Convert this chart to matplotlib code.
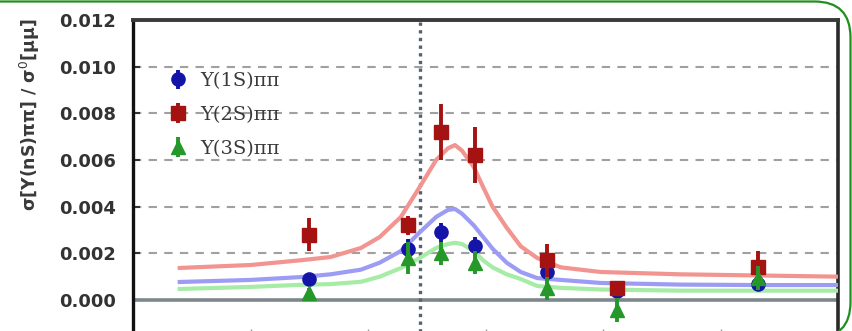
import matplotlib
matplotlib.use("Agg")
import matplotlib.pyplot as plt
from matplotlib.patches import PathPatch
from matplotlib.path import Path
from matplotlib.transforms import IdentityTransform

# ---- data ----
energy = [10.825, 10.867, 10.881, 10.8955, 10.926, 10.956, 11.016]
y1s = [0.0009, 0.0022, 0.0029, 0.0023, 0.0012, 0.0004, 0.0007]
y1s_err = [0.0002, 0.0004, 0.0004, 0.0004, 0.0004, 0.0003, 0.0003]
y2s = [0.0028, 0.0032, 0.0072, 0.0062, 0.0017, 0.0005, 0.0014]
y2s_err = [0.0007, 0.0004, 0.0012, 0.0012, 0.0007, 0.0003, 0.0007]
y3s = [0.0003, 0.0018, 0.0020, 0.0016, 0.0005, -0.00043, 0.00094]
y3s_err = [0.0002, 0.0007, 0.0005, 0.0005, 0.0005, 0.0005, 0.0005]

curve_x = [10.769, 10.800, 10.821, 10.834, 10.847, 10.855, 10.864, 10.872,
           10.879, 10.884, 10.887, 10.890, 10.895, 10.899, 10.903, 10.909,
           10.915, 10.922, 10.932, 10.949, 10.983, 11.017, 11.050]
curve_2s = [0.00137, 0.00150, 0.00170, 0.00184, 0.00223, 0.00270, 0.00356, 0.00484,
            0.00600, 0.00650, 0.00664, 0.00640, 0.00570, 0.00484, 0.00400, 0.00310,
            0.00230, 0.00180, 0.00140, 0.00120, 0.00110, 0.00105, 0.00100]
curve_1s = [0.00077, 0.00086, 0.00098, 0.00110, 0.00130, 0.00160, 0.00210, 0.00290,
            0.00356, 0.00386, 0.00390, 0.00370, 0.00320, 0.00270, 0.00220, 0.00160,
            0.00120, 0.00094, 0.00086, 0.00073, 0.00066, 0.00064, 0.00064]
curve_3s = [0.00047, 0.00056, 0.00065, 0.00068, 0.00078, 0.00100, 0.00137, 0.00180,
            0.00223, 0.00240, 0.00245, 0.00240, 0.00210, 0.00170, 0.00140, 0.00110,
            0.00090, 0.00060, 0.00052, 0.00045, 0.00040, 0.00040, 0.00040]

threshold = 10.872
yticks = [0.000, 0.002, 0.004, 0.006, 0.008, 0.010, 0.012]
xticks = [10.80, 10.85, 10.90, 10.95, 11.00]
labels = ["Υ(1S)ππ", "Υ(2S)ππ", "Υ(3S)ππ"]

# ---- figure ----
W, H = 852, 331
fig = plt.figure(figsize=(W / 100, H / 100), dpi=100)
left_px, right_px, top_px, bot_px = 133, 838, 20, 333
ax = fig.add_axes([left_px / W, 1 - bot_px / H, (right_px - left_px) / W, (bot_px - top_px) / H])

ymin = -(bot_px - 300) / ((300 - 20) / 0.012)
ax.set_ylim(ymin, 0.012)
ax.set_xlim(10.75, 11.05)

# grid
for yv in yticks[1:-1]:
    ax.axhline(yv, color="#a0a0a0", lw=1.5, ls=(0, (4, 3.5)), zorder=1)
ax.axhline(0.0, color="#7d878c", lw=2.6, zorder=2)
ax.axvline(threshold, color="#56626e", lw=2.4, ls=(0, (1, 1.3)), zorder=2)

# fit curves
ckw = dict(lw=3.0, zorder=3, solid_joinstyle="round", solid_capstyle="butt")
ax.plot(curve_x, curve_2s, color="#f29490", **ckw)
ax.plot(curve_x, curve_1s, color="#9c9cf4", **ckw)
ax.plot(curve_x, curve_3s, color="#a6eca6", **ckw)

# data
h1 = ax.errorbar(energy, y1s, yerr=y1s_err, fmt="o", color="#1414a8", ms=9.5,
                 elinewidth=2.8, capsize=0, zorder=5)
h2 = ax.errorbar(energy, y2s, yerr=y2s_err, fmt="s", color="#a51212", ms=9.5,
                 elinewidth=2.8, capsize=0, zorder=6)
h3 = ax.errorbar(energy, y3s, yerr=y3s_err, fmt="^", color="#26982a", ms=9.5,
                 elinewidth=2.8, capsize=0, zorder=7)

leg = ax.legend([h1, h2, h3], labels, loc="upper left", bbox_to_anchor=(0.039, 0.858),
                frameon=False, prop={"family": "DejaVu Serif", "size": 14},
                handlelength=1.0, handletextpad=0.66, labelspacing=0.81,
                borderaxespad=0)
for t in leg.get_texts():
    t.set_color("#3a3a3a")

# axes style
ax.set_yticks(yticks)
ax.set_yticklabels([f"{v:.3f}" for v in yticks], fontsize=13, fontweight="bold",
                   color="#333333")
ax.set_xticks(xticks)
ax.set_xticklabels([])
ax.tick_params(axis="y", direction="in", length=5, width=1.5, pad=12, color="#333333")
ax.tick_params(axis="x", direction="in", length=3, width=1.0, color="#999999")
ax.spines["left"].set_linewidth(2.4)
ax.spines["left"].set_color("#111111")
ax.spines["top"].set_linewidth(2.8)
ax.spines["top"].set_color("#3a3a3a")
ax.spines["right"].set_linewidth(2.6)
ax.spines["right"].set_color("#2a2a2a")
ax.spines["bottom"].set_visible(False)

fig.text(30 / W, 1 - 115 / H, "σ[Υ(nS)ππ] / σ$^{0}$[μμ]", rotation=90,
         ha="center", va="center", fontsize=12.5, fontweight="bold", color="#3a3a3a")

# green rounded frame (display pixels)
r = 36
xr, yt, yb = 850.5, 329.5, -7
verts = [(-5, yt), (xr - r, yt), (xr, yt), (xr, yt - r), (xr, yb + r), (xr, yb),
         (xr - r, yb), (-5, yb)]
codes = [Path.MOVETO, Path.LINETO, Path.CURVE3, Path.CURVE3, Path.LINETO,
         Path.CURVE3, Path.CURVE3, Path.LINETO]
frame = PathPatch(Path(verts, codes), transform=IdentityTransform(), fill=False,
                  edgecolor="#1f8f1f", lw=1.6)
fig.add_artist(frame)

fig.savefig("out.png", dpi=100)
